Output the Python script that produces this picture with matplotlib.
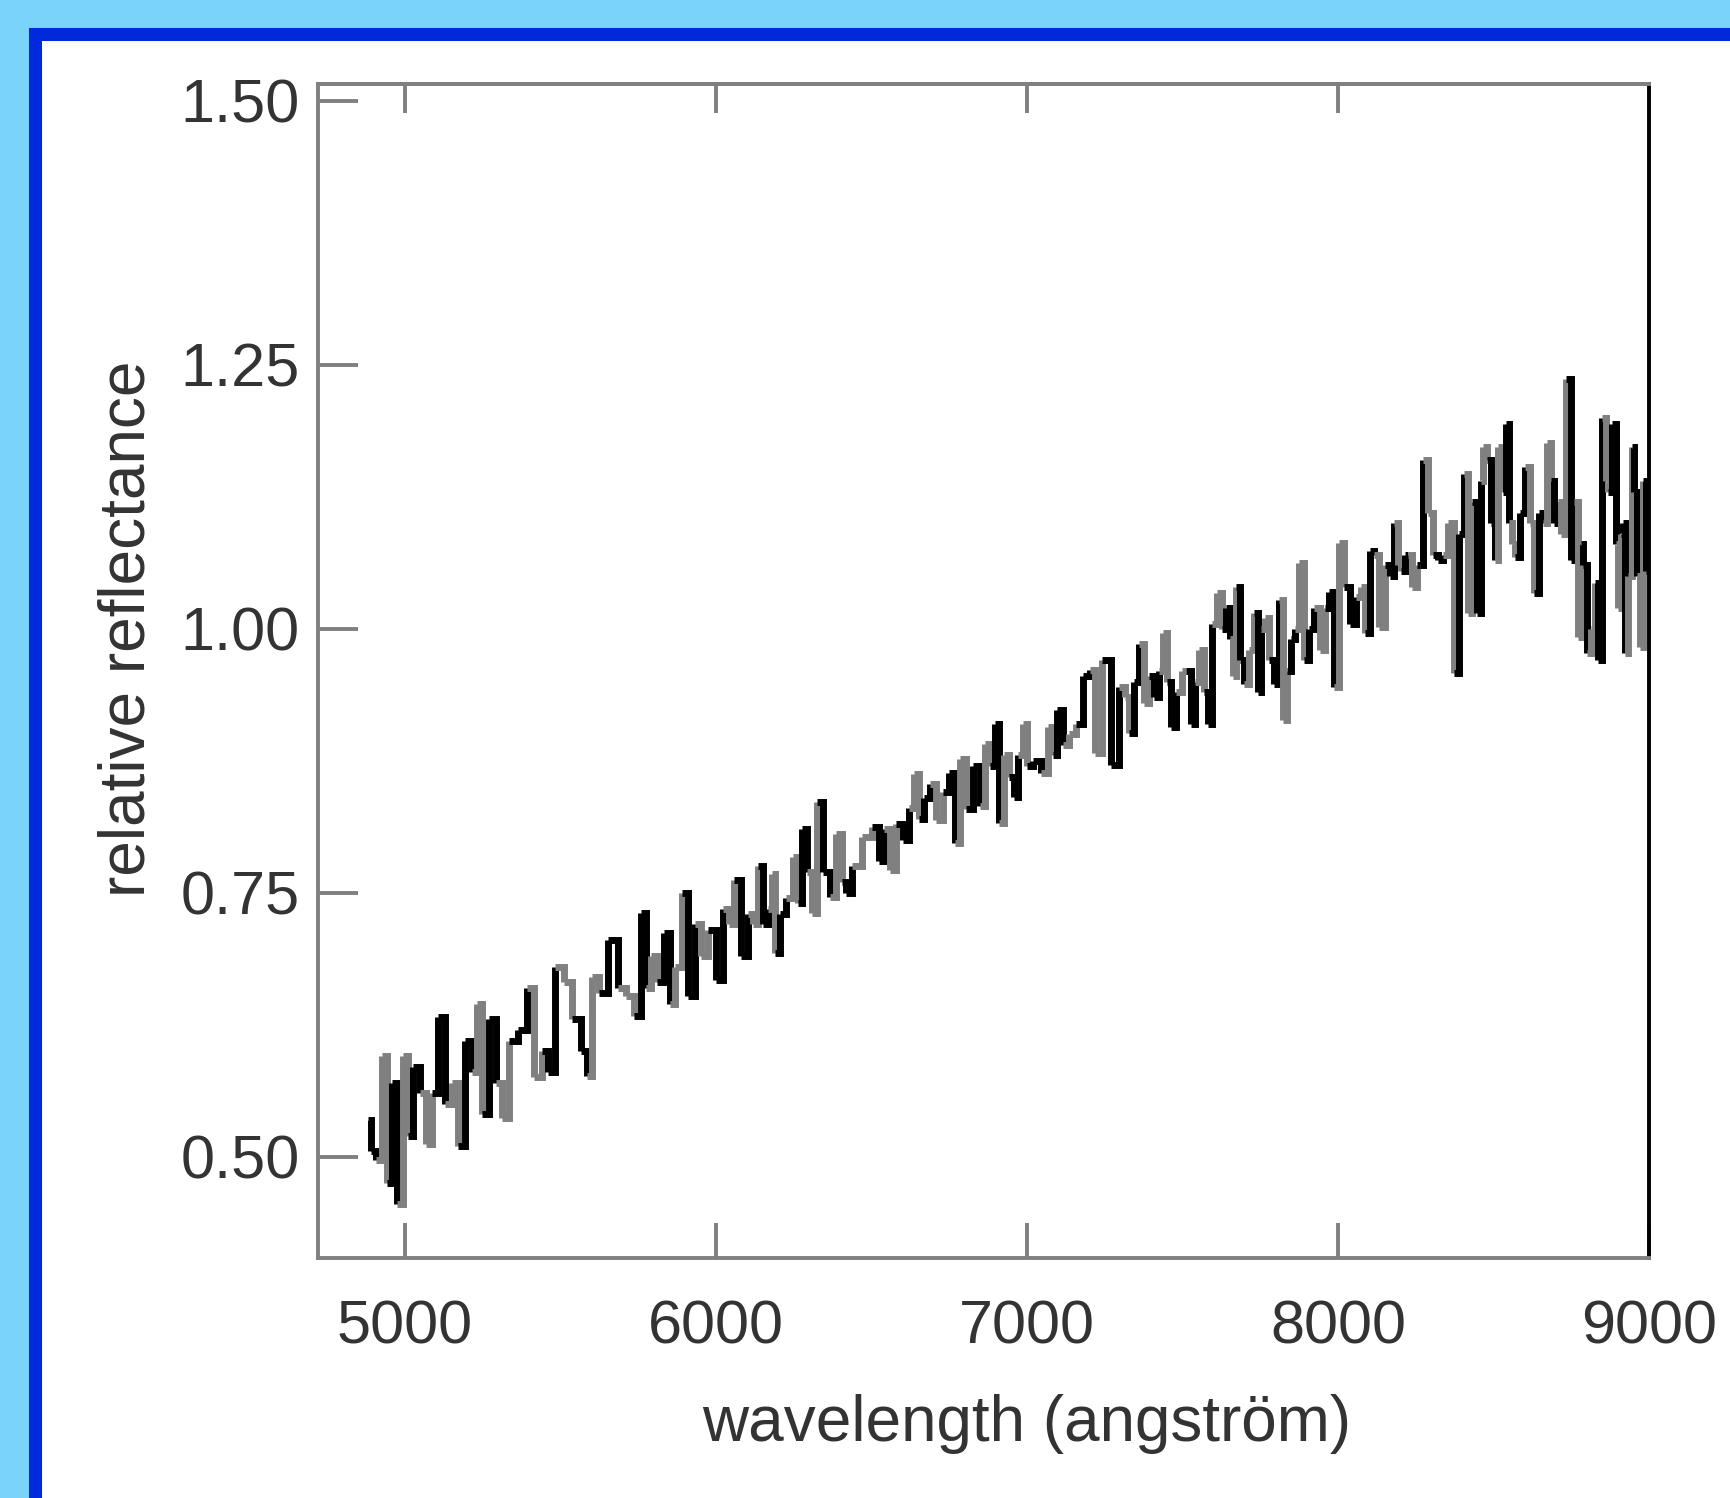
import numpy as np
import matplotlib.pyplot as plt
from matplotlib.collections import LineCollection
from matplotlib.patches import Rectangle

plt.rcParams["font.family"] = ["Liberation Sans", "DejaVu Sans"]

wavelength = [
    4882, 4898, 4914, 4935, 4951, 4962, 4984, 5000, 5016, 5037, 5059, 5075, 5096,
    5117, 5139, 5160, 5182, 5203, 5225, 5235, 5262, 5278, 5305, 5321, 5348, 5380,
    5407, 5423, 5455, 5466, 5498, 5525, 5551, 5578, 5594, 5610, 5637, 5669, 5701,
    5723, 5750, 5766, 5782, 5798, 5820, 5846, 5860, 5879, 5900, 5921, 5942, 5964,
    5985, 6013, 6034, 6050, 6066, 6093, 6110, 6130, 6141, 6160, 6173, 6184, 6195,
    6215, 6238, 6259, 6270, 6280, 6302, 6318, 6334, 6355, 6375, 6398, 6412, 6425,
    6452, 6484, 6516, 6530, 6550, 6569, 6590, 6610, 6630, 6645, 6660, 6676, 6698,
    6719, 6740, 6757, 6778, 6792, 6816, 6837, 6858, 6874, 6890, 6901, 6917, 6935,
    6950, 6965, 6980, 6992, 7010, 7030, 7057, 7078, 7090, 7105, 7125, 7145, 7169,
    7190, 7212, 7228, 7255, 7282, 7308, 7320, 7336, 7352, 7368, 7384, 7400, 7416,
    7430, 7443, 7458, 7470, 7491, 7505, 7518, 7534, 7548, 7561, 7575, 7587, 7603,
    7620, 7632, 7645, 7660, 7668, 7678, 7692, 7705, 7720, 7737, 7748, 7760, 7770,
    7785, 7802, 7818, 7828, 7842, 7855, 7870, 7882, 7898, 7914, 7930, 7952, 7965,
    7978, 7995, 8011, 8027, 8048, 8065, 8080, 8096, 8110, 8123, 8144, 8160, 8176,
    8187, 8200, 8208, 8220, 8230, 8246, 8260, 8267, 8283, 8299, 8315, 8331, 8345,
    8364, 8380, 8396, 8412, 8423, 8440, 8455, 8463, 8471, 8487, 8500, 8508, 8524,
    8535, 8546, 8555, 8562, 8578, 8594, 8610, 8625, 8637, 8653, 8665, 8680, 8690,
    8701, 8712, 8723, 8744, 8755, 8765, 8776, 8785, 8792, 8808, 8820, 8830, 8840,
    8856, 8865, 8873, 8889, 8897, 8905, 8915, 8921, 8926, 8940, 8948, 8958, 8966,
    8974, 8985, 8996,
]
reflectance = [
    0.535, 0.505, 0.497, 0.595, 0.475, 0.570, 0.455, 0.595, 0.520, 0.585, 0.560, 0.512, 0.560,
    0.632, 0.550, 0.570, 0.510, 0.610, 0.580, 0.645, 0.540, 0.630, 0.570, 0.537, 0.610, 0.620,
    0.660, 0.575, 0.600, 0.580, 0.680, 0.665, 0.630, 0.600, 0.576, 0.670, 0.655, 0.705, 0.660,
    0.652, 0.633, 0.731, 0.660, 0.690, 0.665, 0.712, 0.645, 0.680, 0.750, 0.652, 0.720, 0.690,
    0.715, 0.667, 0.735, 0.720, 0.762, 0.690, 0.730, 0.720, 0.775, 0.720, 0.735, 0.768, 0.693,
    0.730, 0.745, 0.784, 0.740, 0.810, 0.770, 0.731, 0.836, 0.770, 0.746, 0.806, 0.760, 0.750,
    0.775, 0.803, 0.812, 0.780, 0.810, 0.772, 0.815, 0.800, 0.830, 0.862, 0.820, 0.840, 0.853,
    0.819, 0.845, 0.863, 0.797, 0.877, 0.829, 0.870, 0.832, 0.891, 0.870, 0.910, 0.816, 0.880,
    0.860, 0.841, 0.880, 0.910, 0.870, 0.875, 0.863, 0.907, 0.880, 0.923, 0.890, 0.900, 0.910,
    0.955, 0.961, 0.882, 0.970, 0.871, 0.945, 0.935, 0.901, 0.950, 0.986, 0.930, 0.955, 0.935,
    0.960, 0.996, 0.950, 0.907, 0.940, 0.960, 0.960, 0.910, 0.950, 0.980, 0.940, 0.910, 1.005,
    1.034, 1.000, 1.020, 0.990, 0.955, 1.040, 0.970, 0.948, 0.980, 1.015, 0.940, 1.000, 1.010,
    0.970, 0.948, 1.027, 0.914, 0.960, 0.990, 1.000, 1.062, 0.970, 1.000, 1.020, 0.980, 1.020,
    1.035, 0.945, 1.081, 1.040, 1.005, 1.030, 1.040, 0.996, 1.074, 1.070, 1.002, 1.060, 1.050,
    1.100, 1.060, 1.055, 1.070, 1.070, 1.040, 1.060, 1.060, 1.160, 1.110, 1.070, 1.065, 1.070,
    1.100, 0.958, 1.090, 1.147, 1.015, 1.120, 1.015, 1.140, 1.172, 1.160, 1.100, 1.065, 1.172,
    1.130, 1.194, 1.100, 1.080, 1.068, 1.110, 1.153, 1.100, 1.034, 1.110, 1.100, 1.176, 1.140,
    1.100, 1.120, 1.090, 1.237, 1.065, 1.120, 0.992, 1.080, 1.060, 0.977, 1.000, 1.043, 0.970,
    1.200, 1.140, 1.130, 1.194, 1.080, 1.020, 1.090, 1.100, 0.977, 1.050, 1.172, 1.130, 1.050,
    0.983, 1.140, 1.055,
]

x_ticks = [5000, 6000, 7000, 8000, 9000]
y_ticks = [0.50, 0.75, 1.00, 1.25, 1.50]

fig = plt.figure(figsize=(17.31, 14.98), dpi=100, facecolor="#79d3fb")

# white panel with blue border, running off the right and bottom edges
fig.patches.append(Rectangle((0.0205, -0.1), 1.2, 0.1 + 0.977, transform=fig.transFigure,
                             facecolor="white", edgecolor="#0029dc", linewidth=9.4, zorder=-5))

ax = fig.add_axes([0.1837, 0.1602, 0.7689, 0.7837])
ax.set_facecolor("none")

x = np.array(wavelength, dtype=float)
y = np.array(reflectance)
edges = np.concatenate([[x[0]], (x[:-1] + x[1:]) / 2, [x[-1]]])
segs = []
for i in range(len(x)):
    pts = [(edges[i], y[i]), (edges[i + 1], y[i])]
    if i + 1 < len(x):
        pts.append((edges[i + 1], y[i + 1]))
    segs.append(pts)
cols = ["black" if (i // 2) % 2 == 0 else "#808080" for i in range(len(x))]
lc = LineCollection(segs, colors=cols, linewidths=5.0, capstyle="butt", joinstyle="miter")
ax.add_collection(lc)

ax.set_xlim(4720, 9000)
ax.set_ylim(0.404, 1.516)

gray = "#808080"
for side in ["left", "top", "bottom"]:
    ax.spines[side].set_color(gray)
    ax.spines[side].set_linewidth(2.8)
ax.spines["right"].set_color("black")
ax.spines["right"].set_linewidth(2.8)

ax.set_xticks(x_ticks)
ax.set_xticklabels([str(t) for t in x_ticks])
ax.set_yticks(y_ticks)
ax.set_yticklabels(["%.2f" % t for t in y_ticks])
ax.tick_params(axis="x", direction="in", length=25, width=2.8, color=gray,
               labelsize=44, labelcolor="#333333", pad=30)
ax.tick_params(axis="y", direction="in", length=29, width=2.8, color=gray,
               labelsize=44, labelcolor="#333333", pad=13)

top = ax.secondary_xaxis("top")
top.set_xticks(x_ticks[:-1])
top.tick_params(direction="in", length=21, width=2.8, color=gray, labeltop=False)
top.spines["top"].set_color(gray)
top.spines["top"].set_linewidth(2.8)

fig.text(1027 / 1731, 1 - 1424 / 1498, "wavelength (angström)", fontsize=46,
         color="#333333", ha="center", va="center")
fig.text(128 / 1731, 1 - 629 / 1498, "relative reflectance", fontsize=46,
         color="#333333", ha="center", va="center", rotation=90)

fig.savefig("out.png", dpi=100, facecolor=fig.get_facecolor())
